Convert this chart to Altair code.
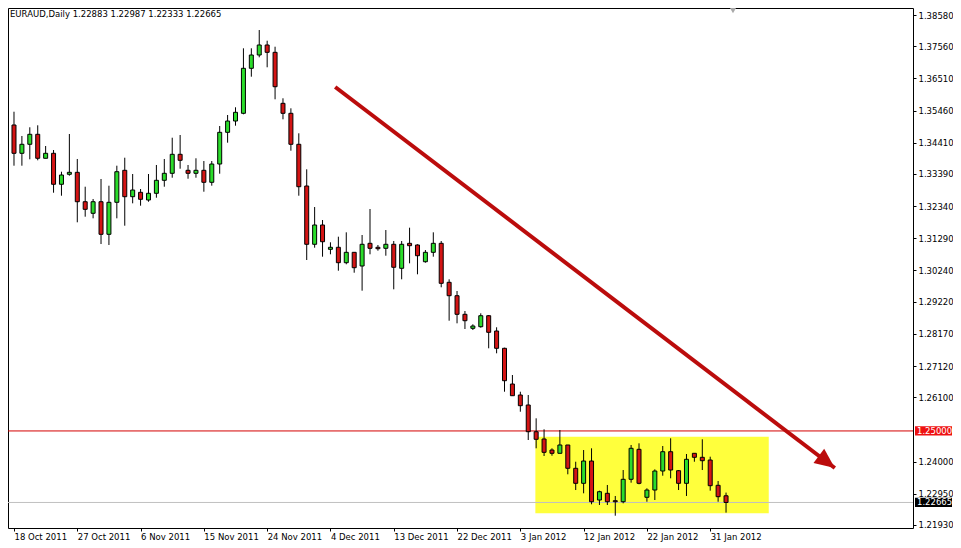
import json
import altair as alt
import pandas as pd

# ---------------- data ----------------
title_text = "EURAUD,Daily  1.22883 1.22987 1.22333 1.22665"

opens = [1.34989, 1.34065, 1.34359, 1.34685, 1.33902, 1.34065, 1.33053, 1.33379, 1.33444, 1.32484,
         1.32106, 1.32484, 1.31420, 1.32465, 1.33510, 1.32648, 1.32791, 1.32540, 1.32759, 1.33183,
         1.33412, 1.34032, 1.33510, 1.33412, 1.33510, 1.33118, 1.33715, 1.34750, 1.35119, 1.35371,
         1.36840, 1.37274, 1.37601, 1.37362, 1.35697, 1.35371, 1.34359, 1.32997, 1.31094, 1.31724,
         1.30930, 1.30996, 1.30493, 1.30832, 1.30385, 1.31126, 1.30996, 1.30963, 1.31094, 1.30310,
         1.31126, 1.31071, 1.30525, 1.30832, 1.31126, 1.29853, 1.29415, 1.28808, 1.28351, 1.28403,
         1.28762, 1.28263, 1.27698, 1.26532, 1.26173, 1.25847, 1.24975, 1.24737, 1.24377, 1.24270,
         1.24541, 1.23780, 1.23290, 1.24018, 1.22745, 1.22964, 1.22722, 1.22689, 1.23421, 1.24400,
         1.22833, 1.23071, 1.23692, 1.24322, 1.23702, 1.23290, 1.24270, 1.24139, 1.24051, 1.23225,
         1.22883]
highs = [1.35423, 1.34630, 1.34914, 1.34979, 1.34303, 1.34172, 1.33464, 1.34695, 1.33879, 1.32974,
         1.32573, 1.33226, 1.33007, 1.33660, 1.33921, 1.33389, 1.32899, 1.33389, 1.33683, 1.33879,
         1.34574, 1.34662, 1.33683, 1.33902, 1.33813, 1.33813, 1.34956, 1.35315, 1.35567, 1.37493,
         1.37493, 1.38090, 1.37741, 1.37545, 1.35861, 1.35534, 1.34718, 1.33542, 1.32311, 1.31887,
         1.31159, 1.31342, 1.31485, 1.30832, 1.31397, 1.32246, 1.31071, 1.31560, 1.31201, 1.31201,
         1.31636, 1.31094, 1.30907, 1.31485, 1.31201, 1.29951, 1.29569, 1.28916, 1.28482, 1.28841,
         1.28785, 1.28384, 1.27718, 1.26826, 1.26281, 1.26173, 1.25412, 1.25053, 1.24433, 1.25030,
         1.24541, 1.23995, 1.24377, 1.24433, 1.23049, 1.23235, 1.22876, 1.23724, 1.24541, 1.24596,
         1.23127, 1.23747, 1.24508, 1.24760, 1.23724, 1.24247, 1.24270, 1.24727, 1.24159, 1.23365,
         1.22987]
lows = [1.33660, 1.33660, 1.33869, 1.33836, 1.33902, 1.32778, 1.32680, 1.33333, 1.31812, 1.31995,
        1.31942, 1.31103, 1.31071, 1.31942, 1.31701, 1.32432, 1.32354, 1.32484, 1.32615, 1.32974,
        1.33268, 1.33562, 1.33235, 1.33268, 1.32811, 1.33007, 1.33399, 1.34411, 1.34966, 1.35338,
        1.36566, 1.37199, 1.36873, 1.35828, 1.35175, 1.34150, 1.32680, 1.30581, 1.30983, 1.30689,
        1.30767, 1.30232, 1.30441, 1.30166, 1.29579, 1.30767, 1.30885, 1.30721, 1.29624, 1.29951,
        1.30473, 1.30114, 1.30493, 1.30689, 1.29690, 1.28599, 1.28514, 1.28328, 1.28295, 1.28371,
        1.27698, 1.27535, 1.26281, 1.26150, 1.25628, 1.24704, 1.24433, 1.24182, 1.24191, 1.24270,
        1.23584, 1.23071, 1.22964, 1.22605, 1.22582, 1.22582, 1.22232, 1.22637, 1.23310, 1.23258,
        1.22689, 1.22745, 1.23538, 1.23453, 1.23071, 1.22876, 1.23995, 1.23724, 1.23049, 1.22689,
        1.22333]
closes = [1.34065, 1.34359, 1.34685, 1.33902, 1.34065, 1.33053, 1.33356, 1.33444, 1.32484, 1.32236,
          1.32484, 1.31420, 1.32465, 1.33464, 1.32648, 1.32866, 1.32563, 1.32759, 1.33183, 1.33412,
          1.34032, 1.33836, 1.33412, 1.33510, 1.33118, 1.33715, 1.34750, 1.35119, 1.35403, 1.36840,
          1.37274, 1.37601, 1.37362, 1.36239, 1.35371, 1.34359, 1.32974, 1.31094, 1.31724, 1.31178,
          1.30996, 1.30493, 1.30832, 1.30330, 1.31094, 1.30963, 1.30950, 1.31094, 1.30343, 1.31094,
          1.31048, 1.30721, 1.30832, 1.31126, 1.29820, 1.29415, 1.28808, 1.28599, 1.28426, 1.28762,
          1.28220, 1.27698, 1.26640, 1.26150, 1.25824, 1.24975, 1.24727, 1.24302, 1.24270, 1.24541,
          1.23780, 1.23290, 1.24018, 1.22689, 1.23016, 1.22689, 1.22689, 1.23421, 1.24433, 1.23290,
          1.23071, 1.23692, 1.24322, 1.23724, 1.23290, 1.24074, 1.24139, 1.24028, 1.23212, 1.22853,
          1.22665]

date_labels = ["18 Oct 2011", "27 Oct 2011", "6 Nov 2011", "15 Nov 2011", "24 Nov 2011",
               "4 Dec 2011", "13 Dec 2011", "22 Dec 2011", "3 Jan 2012", "12 Jan 2012",
               "22 Jan 2012", "31 Jan 2012"]
date_label_bars = [0, 8, 16, 24, 32, 40, 48, 56, 64, 72, 80, 88]

price_ticks = [1.38580, 1.37560, 1.36510, 1.35460, 1.34410, 1.33390, 1.32340, 1.31290,
               1.30240, 1.29220, 1.28170, 1.27120, 1.26100, 1.24000, 1.22950, 1.21930]

level_prices = [1.25000, 1.22665]
level_labels = ["1.25000", "1.22665"]
level_line_colors = ["#d40000", "#c0c0c0"]
level_box_colors = ["#ee1111", "#000000"]

# yellow range box (bar index / price anchors)
box_bars = [65.9, 95.4]
box_prices = [1.24812, 1.22311]

# trend arrow anchors (bar index / price)
arrow_bars = [40.6, 103.75]
arrow_prices = [1.36229, 1.23790]

x_domain = [-0.125, 113.0]
y_domain = [1.21831, 1.38809]

# ---------------- build ----------------
W, H = 905, 520
bull = "#2bdc2b"
bear = "#d41414"
font = "DejaVu Sans"
fs = 8.5

candles = pd.DataFrame({
    "bar": list(range(len(opens))),
    "open": opens, "high": highs, "low": lows, "close": closes,
})
candles["fill"] = [bull if c >= o else bear for o, c in zip(opens, closes)]

xs = alt.Scale(domain=x_domain, nice=False, zero=False)
ys = alt.Scale(domain=y_domain, nice=False, zero=False)

label_expr = f"{json.dumps(date_labels)}[indexof({json.dumps(date_label_bars)}, datum.value)]"

x_axis = alt.Axis(values=date_label_bars, labelExpr=label_expr, title=None, grid=False,
                  domain=False, tickSize=3, tickColor="black", labelAlign="left",
                  labelPadding=1, labelFlush=False, labelOverlap=False)
y_axis = alt.Axis(values=price_ticks, format=".5f", orient="right", title=None, grid=False,
                  domain=False, tickSize=3, tickColor="black", labelPadding=2,
                  labelOverlap=False, labelAlign="left", labelBaseline="middle",
                  labelFlush=False)


def X(field):
    return alt.X(field, type="quantitative", scale=xs, axis=x_axis)


def Y(field):
    return alt.Y(field, type="quantitative", scale=ys, axis=y_axis)


base = alt.Chart(candles)

box_df = pd.DataFrame({"x1": [box_bars[0]], "x2": [box_bars[1]],
                       "y1": [box_prices[0]], "y2": [box_prices[1]]})
box = alt.Chart(box_df).mark_rect(color="#ffff3c", clip=True).encode(
    x=X("x1"), x2="x2:Q", y=Y("y1"), y2="y2:Q")

levels = pd.DataFrame({"price": level_prices, "label": level_labels,
                       "line": level_line_colors, "boxc": level_box_colors})
level_lines = alt.Chart(levels).mark_rule(strokeWidth=1).encode(
    y=Y("price"), color=alt.Color("line:N", scale=None))

wicks = base.mark_rule(color="black", strokeWidth=1, clip=True).encode(
    x=X("bar"), y=Y("low"), y2="high:Q")

bodies = base.mark_bar(size=4, stroke="black", strokeWidth=1, orient="vertical", clip=True).encode(
    x=X("bar"), y=Y("open"), y2="close:Q",
    fill=alt.Fill("fill:N", scale=None))

arrow_df = pd.DataFrame({"bar": arrow_bars, "price": arrow_prices, "order": [0, 1]})
arrow_line = alt.Chart(arrow_df).mark_line(color="#bb0c0c", strokeWidth=4, strokeCap="butt",
                                           clip=True).encode(
    x=X("bar"), y=Y("price"), order="order:Q")
arrow_head = alt.Chart(arrow_df.iloc[[1]]).mark_point(
    shape="M0,0L0.8,1.8L-0.8,1.8Z", filled=True, color="#bb0c0c", opacity=1,
    size=494, angle=127, clip=True).encode(
    x=X("bar"), y=Y("price"))

level_boxes = alt.Chart(levels).mark_point(
    shape="M-1,-0.25H1V0.25H-1Z", filled=True, opacity=1, size=1369, clip=False).encode(
    x=alt.value(W + 20.5), y=Y("price"), color=alt.Color("boxc:N", scale=None))
level_text = alt.Chart(levels).mark_text(align="left", baseline="middle", color="white",
                                         font=font, fontSize=fs, clip=False).encode(
    x=alt.value(W + 4), y=Y("price"), text="label:N")

title_df = pd.DataFrame({"t": [title_text]})
title = alt.Chart(title_df).mark_text(align="left", baseline="middle", color="black",
                                      font=font, fontSize=fs).encode(
    x=alt.value(2), y=alt.value(6), text="t:N")

marker = alt.Chart(title_df).mark_point(shape="triangle-down", filled=True, color="#a8a8a8",
                                        opacity=1, size=40).encode(
    x=alt.value(725), y=alt.value(2.5))

chart = alt.layer(box, level_lines, wicks, bodies, arrow_line, arrow_head,
                  level_boxes, level_text, title, marker).properties(
    width=W, height=H,
    padding={"left": 0, "top": 0, "right": 40, "bottom": 17},
    autosize=alt.AutoSizeParams(type="none"),
    background="white",
).configure_view(stroke="black", strokeWidth=1).configure_axis(
    labelFont=font, labelFontSize=fs, labelColor="black")

chart.save("out.html", embed_options={"renderer": "svg", "actions": False})
